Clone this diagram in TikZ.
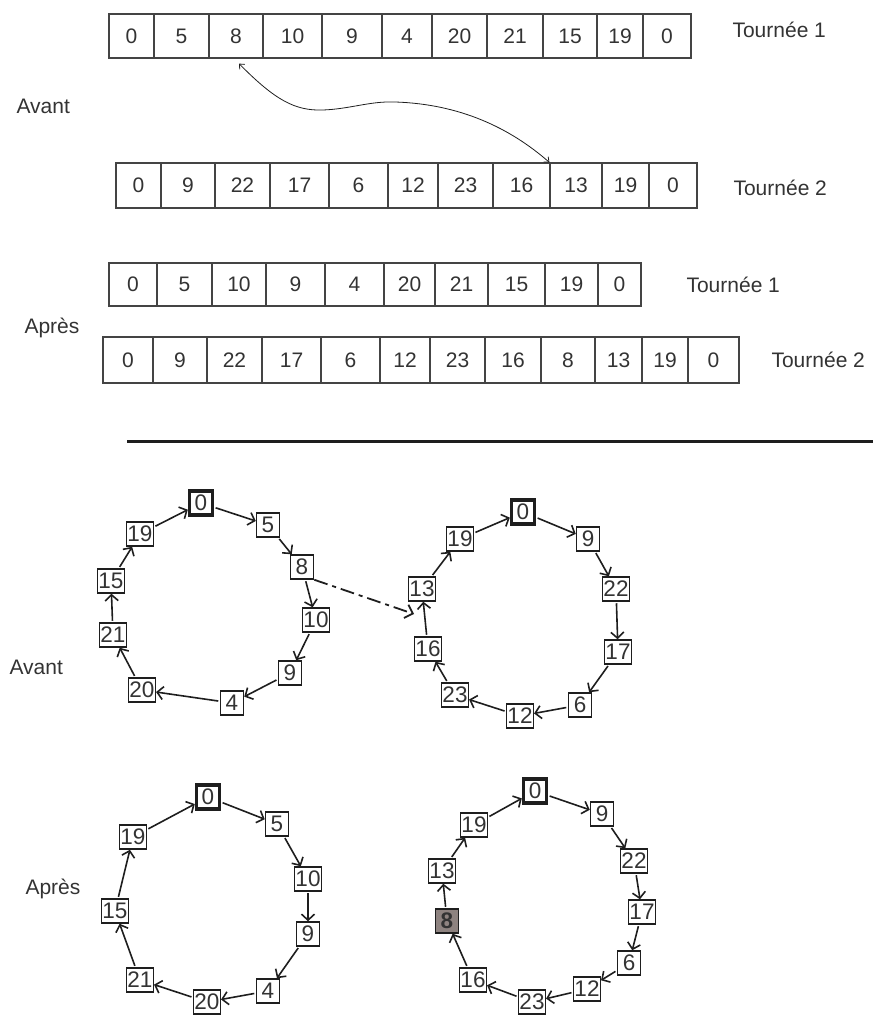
\documentclass[tikz,border=0pt]{standalone}
\usepackage{fontspec}
\setmainfont{Liberation Sans}
\usetikzlibrary{arrows.meta,calc}
\definecolor{txt}{HTML}{333333}
\definecolor{arrline}{HTML}{444444}
\definecolor{boxline}{HTML}{1E1E1E}
\definecolor{eightfill}{HTML}{8E8380}
\begin{document}
\begin{tikzpicture}[x=1pt,y=-1pt,
  every node/.style={font=\fontsize{21}{24}\selectfont, text=txt},
  cell/.style={draw=arrline, line width=1.2pt, inner sep=0pt},
  lbl/.style={anchor=base west},
  gn/.style={draw=boxline, line width=1.5pt, fill=white, inner sep=0.8pt, minimum width=23pt, minimum height=24pt, font=\fontsize{22.5}{24}\selectfont},
  gstart/.style={gn, line width=3.4pt},
  gmoved/.style={gn, fill=eightfill, font=\fontsize{22.5}{24}\selectfont\bfseries},
  ar/.style={-{Straight Barb[length=6pt,width=13pt]}, line width=1.6pt, draw=boxline, shorten <=1.5pt},
  swap/.style={{Straight Barb[length=4pt,width=7pt]}-{Straight Barb[length=4pt,width=7pt]}, line width=0.8pt, draw=boxline},
  move/.style={-{Straight Barb[length=7pt,width=14pt]}, line width=1.8pt, draw=boxline, dash pattern=on 14pt off 5pt on 4pt off 5pt}
]
\useasboundingbox (0,0) rectangle (873,1017);

% ---------- arrays ----------
\foreach \l/\r/\t [count=\i] in {109/154/0,154/209/5,209/263/8,263/322/10,322/382/9,382/432/4,432/487/20,487/543/21,543/597/15,597/643/19,643/691/0}{
  \pgfmathsetmacro\w{\r-\l}
  \node[cell, minimum width=\w pt, minimum height=44pt] (ta-\i) at ({(\l+\r)/2},36) {\t};
}
\foreach \l/\r/\t [count=\i] in {116/161/0,161/215/9,215/270/22,270/329/17,329/388/6,388/438/12,438/493/23,493/550/16,550/602/13,602/649/19,649/697/0}{
  \pgfmathsetmacro\w{\r-\l}
  \node[cell, minimum width=\w pt, minimum height=45pt] (tb-\i) at ({(\l+\r)/2},185.5) {\t};
}
\foreach \l/\r/\t [count=\i] in {109/157/0,157/212/5,212/266/10,266/325/9,325/384/4,384/435/20,435/488/21,488/545/15,545/598/19,598/641/0}{
  \pgfmathsetmacro\w{\r-\l}
  \node[cell, minimum width=\w pt, minimum height=43pt] (tc-\i) at ({(\l+\r)/2},284.5) {\t};
}
\foreach \l/\r/\t [count=\i] in {103/153/0,153/207/9,207/262/22,262/321/17,321/380/6,380/430/12,430/485/23,485/541/16,541/595/8,595/642/13,642/688/19,688/739/0}{
  \pgfmathsetmacro\w{\r-\l}
  \node[cell, minimum width=\w pt, minimum height=46pt] (td-\i) at ({(\l+\r)/2},360) {\t};
}

% labels
\node[lbl] (tl1) at (729,37) {Tournée 1};
\node[lbl] (tl2) at (730,195) {Tournée 2};
\node[lbl] (tl3) at (683,292) {Tournée 1};
\node[lbl] (tl4) at (768,367) {Tournée 2};
\node[lbl] (av1) at (13,113) {Avant};
\node[lbl] (ap1) at (21,333) {Après};
\node[anchor=west] (av2) at (6,667) {Avant};
\node[anchor=west] (ap2) at (22,889) {Après};

% swap arrow
\coordinate (cs) at ([shift={(3,5)}]ta-3.south);
\draw[swap] (cs) .. controls (275,100) and (295,111) .. (323,110)
  .. controls (350,109) and (370,101) .. (395,102)
  .. controls (460,104) and (510,128) .. (tb-9.north west);

% separator
\draw[line width=3pt, draw=boxline] (127,441) -- (873,441);

% ---------- graph A ----------
\node[gstart] (a0) at (201,503) {0};
\node[gn] (a5) at (268,525) {5};
\node[gn] (a8) at (302,567) {8};
\node[gn] (a10) at (316,620) {10};
\node[gn] (a9) at (290,673) {9};
\node[gn] (a4) at (232,703) {4};
\node[gn] (a20) at (142,690) {20};
\node[gn] (a21) at (113,635) {21};
\node[gn] (a15) at (111,581) {15};
\node[gn] (a19) at (140,534) {19};
\foreach \s/\t in {a0/a5,a5/a8,a8/a10,a10/a9,a9/a4,a4/a20,a20/a21,a21/a15,a15/a19,a19/a0}
  \draw[ar] (\s) -- (\t);

% ---------- graph B ----------
\node[gstart] (b0) at (523,512) {0};
\node[gn] (b9) at (588,539) {9};
\node[gn] (b22) at (616,589) {22};
\node[gn] (b17) at (618,652) {17};
\node[gn] (b6) at (580,705) {6};
\node[gn] (b12) at (520,716) {12};
\node[gn] (b23) at (455,695) {23};
\node[gn] (b16) at (428,649) {16};
\node[gn] (b13) at (422,589) {13};
\node[gn] (b19) at (460,539) {19};
\foreach \s/\t in {b0/b9,b9/b22,b22/b17,b17/b6,b6/b12,b12/b23,b23/b16,b16/b13,b13/b19,b19/b0}
  \draw[ar] (\s) -- (\t);

% move of 8
\coordinate (mv) at (414,614);
\draw[move] (a8.south east) -- (mv);

% ---------- graph C ----------
\node[gstart] (c0) at (208,797) {0};
\node[gn] (c5) at (277,824) {5};
\node[gn] (c10) at (308,879) {10};
\node[gn] (c9) at (308,934) {9};
\node[gn] (c4) at (268,991) {4};
\node[gn] (c20) at (207,1002) {20};
\node[gn] (c21) at (140,980) {21};
\node[gn] (c15) at (115,911) {15};
\node[gn] (c19) at (133,837) {19};
\foreach \s/\t in {c0/c5,c5/c10,c10/c9,c9/c4,c4/c20,c20/c21,c21/c15,c15/c19,c19/c0}
  \draw[ar] (\s) -- (\t);

% ---------- graph D ----------
\node[gstart] (d0) at (535,791) {0};
\node[gn] (d9) at (602,814) {9};
\node[gn] (d22) at (634,861) {22};
\node[gn] (d17) at (642,912) {17};
\node[gn] (d6) at (629,963) {6};
\node[gn] (d12) at (587,989) {12};
\node[gn] (d23) at (532,1002) {23};
\node[gn] (d16) at (473,980) {16};
\node[gmoved] (d8) at (447,921) {8};
\node[gn] (d13) at (442,871) {13};
\node[gn] (d19) at (474,825) {19};
\foreach \s/\t in {d0/d9,d9/d22,d22/d17,d17/d6,d6/d12,d12/d23,d23/d16,d16/d8,d8/d13,d13/d19,d19/d0}
  \draw[ar] (\s) -- (\t);
\end{tikzpicture}
\end{document}
